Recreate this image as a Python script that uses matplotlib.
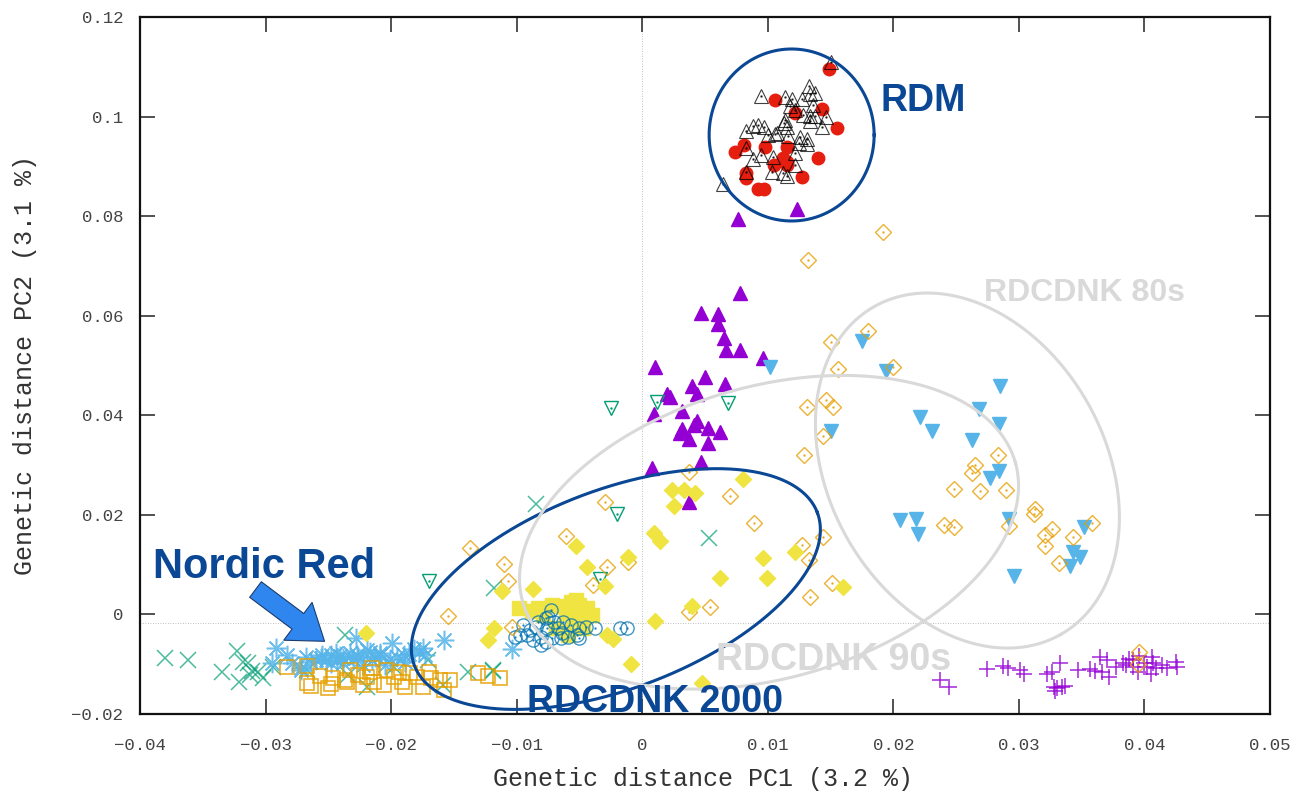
import numpy as np
import matplotlib.pyplot as plt

# PCA coordinates, one array per group (gnuplot point types 1..13)
plus_purple = np.array([
    (0.0237, -0.0131), (0.0244, -0.0146), (0.0275, -0.0110), (0.0287, -0.0104), (0.0291, -0.0108),
    (0.0301, -0.0112), (0.0304, -0.0120), (0.0322, -0.0120), (0.0326, -0.0116), (0.0333, -0.0098),
    (0.0328, -0.0146), (0.0330, -0.0148), (0.0334, -0.0146), (0.0337, -0.0144), (0.0329, -0.0154),
    (0.0347, -0.0112), (0.0357, -0.0110), (0.0361, -0.0114), (0.0365, -0.0086), (0.0366, -0.0116),
    (0.0370, -0.0092), (0.0372, -0.0126), (0.0377, -0.0106), (0.0385, -0.0102), (0.0388, -0.0090),
    (0.0391, -0.0092), (0.0391, -0.0106), (0.0396, -0.0084), (0.0400, -0.0098), (0.0402, -0.0106),
    (0.0406, -0.0086), (0.0407, -0.0098), (0.0409, -0.0108), (0.0405, -0.0120), (0.0414, -0.0102),
    (0.0418, -0.0108), (0.0425, -0.0096), (0.0426, -0.0106), (0.0395, -0.0116), (0.0383, -0.0098)])

cross_green = np.array([
    (-0.0380, -0.0088), (-0.0362, -0.0092), (-0.0323, -0.0074), (-0.0335, -0.0116), (-0.0318, -0.0096),
    (-0.0314, -0.0098), (-0.0311, -0.0114), (-0.0321, -0.0136), (-0.0312, -0.0122), (-0.0306, -0.0116),
    (-0.0302, -0.0128), (-0.0294, -0.0106), (-0.0237, -0.0041), (-0.0139, -0.0116), (-0.0119, -0.0114),
    (-0.0171, -0.0092), (-0.0159, -0.0142), (-0.0085, 0.0221), (0.0053, 0.0153), (-0.0118, 0.0053),
    (-0.0119, -0.0112), (-0.0267, -0.0112), (-0.0234, -0.0122), (-0.0219, -0.0146), (-0.0198, -0.0106)])

aster_blue = np.array([
    (-0.0292, -0.0067), (-0.0283, -0.0081), (-0.0279, -0.0098), (-0.0295, -0.0098), (-0.0264, -0.0096),
    (-0.0256, -0.0088), (-0.0248, -0.0081), (-0.0243, -0.0092), (-0.0272, -0.0108), (-0.0260, -0.0092),
    (-0.0255, -0.0081), (-0.0244, -0.0078), (-0.0238, -0.0088), (-0.0228, -0.0048), (-0.0227, -0.0081),
    (-0.0219, -0.0071), (-0.0215, -0.0092), (-0.0209, -0.0078), (-0.0199, -0.0058), (-0.0190, -0.0081),
    (-0.0175, -0.0067), (-0.0158, -0.0052), (-0.0272, -0.0112), (-0.0248, -0.0098), (-0.0104, -0.0069),
    (-0.0233, -0.0078), (-0.0226, -0.0086), (-0.0217, -0.0076), (-0.0209, -0.0082), (-0.0195, -0.0086),
    (-0.0189, -0.0096), (-0.0178, -0.0076), (-0.0173, -0.0082), (-0.0238, -0.0098), (-0.0222, -0.0102),
    (-0.0205, -0.0102), (-0.0268, -0.0085), (-0.0252, -0.0092), (-0.0241, -0.0083), (-0.0230, -0.0090),
    (-0.0213, -0.0085), (-0.0201, -0.0089), (-0.0186, -0.0080), (-0.0182, -0.0070)])

square_orange = np.array([
    (-0.0283, -0.0106), (-0.0267, -0.0104), (-0.0267, -0.0138), (-0.0264, -0.0144), (-0.0257, -0.0124),
    (-0.0250, -0.0148), (-0.0246, -0.0128), (-0.0237, -0.0132), (-0.0226, -0.0122), (-0.0222, -0.0142),
    (-0.0219, -0.0126), (-0.0215, -0.0108), (-0.0214, -0.0136), (-0.0206, -0.0142), (-0.0198, -0.0126),
    (-0.0194, -0.0116), (-0.0191, -0.0136), (-0.0189, -0.0146), (-0.0185, -0.0118), (-0.0179, -0.0126),
    (-0.0175, -0.0146), (-0.0170, -0.0116), (-0.0168, -0.0128), (-0.0161, -0.0132), (-0.0153, -0.0132),
    (-0.0158, -0.0152), (-0.0131, -0.0118), (-0.0123, -0.0124), (-0.0113, -0.0128), (-0.0203, -0.0112),
    (-0.0233, -0.0112), (-0.0217, -0.0116), (-0.0235, -0.0136), (-0.0248, -0.0140)])

square_yellow = np.array([
    (-0.0098, 0.0013), (-0.0088, 0.0007), (-0.0083, 0.0013), (-0.0072, 0.0019), (-0.0065, 0.0017),
    (-0.0057, 0.0025), (-0.0053, 0.0029), (-0.0050, 0.0019), (-0.0044, 0.0013), (-0.0040, -0.0001),
    (-0.0079, -0.0001), (-0.0061, 0.0003), (-0.0055, -0.0007), (-0.0050, -0.0007), (-0.0060, -0.0036),
    (-0.0069, -0.0028), (-0.0047, -0.0028), (-0.0059, -0.0042)])

circle_blue = np.array([
    (-0.0095, -0.0022), (-0.0101, -0.0046), (-0.0092, -0.0042), (-0.0085, -0.0026), (-0.0081, -0.0046),
    (-0.0077, -0.0008), (-0.0076, -0.0028), (-0.0073, 0.0009), (-0.0072, -0.0048), (-0.0070, -0.0016),
    (-0.0067, -0.0028), (-0.0064, -0.0038), (-0.0081, -0.0062), (-0.0063, -0.0016), (-0.0057, -0.0022),
    (-0.0052, -0.0042), (-0.0050, -0.0028), (-0.0045, -0.0026), (-0.0038, -0.0028), (-0.0065, -0.0048),
    (-0.0059, -0.0046), (-0.0050, -0.0048), (-0.0089, -0.0032), (-0.0083, -0.0016), (-0.0075, -0.0006),
    (-0.0097, -0.0042), (-0.0087, -0.0052), (-0.0077, -0.0056), (-0.0018, -0.0028), (-0.0012, -0.0028)])

dot_red = np.array([
    (0.0149, 0.1096), (0.0106, 0.1034), (0.0143, 0.1016), (0.0122, 0.1008), (0.0155, 0.0977),
    (0.0074, 0.0929), (0.0081, 0.0943), (0.0098, 0.0939), (0.0115, 0.0939), (0.0112, 0.0917),
    (0.0115, 0.0909), (0.0140, 0.0917), (0.0105, 0.0903), (0.0115, 0.0903), (0.0083, 0.0877),
    (0.0127, 0.0879), (0.0092, 0.0855), (0.0097, 0.0855), (0.0083, 0.0887)])

tri_black = np.array([
    (0.0150, 0.1109), (0.0095, 0.1042), (0.0114, 0.1040), (0.0119, 0.1036), (0.0127, 0.1036),
    (0.0133, 0.1062), (0.0138, 0.1048), (0.0134, 0.1046), (0.0136, 0.1024), (0.0118, 0.1022),
    (0.0122, 0.1014), (0.0128, 0.1004), (0.0134, 0.1002), (0.0138, 0.1002), (0.0146, 0.1000),
    (0.0134, 0.0992), (0.0143, 0.0980), (0.0114, 0.0994), (0.0113, 0.0988), (0.0115, 0.0980),
    (0.0092, 0.0984), (0.0088, 0.0982), (0.0097, 0.0980), (0.0083, 0.0972), (0.0107, 0.0966),
    (0.0100, 0.0962), (0.0106, 0.0964), (0.0116, 0.0960), (0.0126, 0.0958), (0.0131, 0.0954),
    (0.0125, 0.0946), (0.0131, 0.0944), (0.0083, 0.0936), (0.0095, 0.0922), (0.0088, 0.0914),
    (0.0104, 0.0918), (0.0122, 0.0926), (0.0103, 0.0888), (0.0122, 0.0902), (0.0112, 0.0886),
    (0.0115, 0.0880), (0.0083, 0.0888), (0.0064, 0.0865)])

tri_purple = np.array([
    (0.0078, 0.0646), (0.0047, 0.0606), (0.0060, 0.0604), (0.0060, 0.0584), (0.0065, 0.0556),
    (0.0067, 0.0531), (0.0078, 0.0531), (0.0096, 0.0515), (0.0010, 0.0497), (0.0050, 0.0477),
    (0.0040, 0.0459), (0.0066, 0.0463), (0.0044, 0.0443), (0.0020, 0.0443), (0.0022, 0.0437),
    (0.0032, 0.0409), (0.0009, 0.0403), (0.0044, 0.0389), (0.0041, 0.0381), (0.0052, 0.0375),
    (0.0032, 0.0373), (0.0030, 0.0365), (0.0062, 0.0367), (0.0037, 0.0353), (0.0052, 0.0345),
    (0.0047, 0.0306), (0.0008, 0.0294), (0.0037, 0.0226), (0.0123, 0.0815), (0.0076, 0.0794)])

vtri_green = np.array([
    (0.0012, 0.0427), (0.0068, 0.0425), (-0.0025, 0.0415), (-0.0020, 0.0202), (-0.0170, 0.0067),
    (-0.0034, 0.0071)])

vtri_blue = np.array([
    (0.0175, 0.0549), (0.0194, 0.0489), (0.0285, 0.0458), (0.0268, 0.0412), (0.0221, 0.0396),
    (0.0284, 0.0382), (0.0231, 0.0368), (0.0150, 0.0368), (0.0263, 0.0350), (0.0284, 0.0288),
    (0.0277, 0.0274), (0.0205, 0.0190), (0.0218, 0.0192), (0.0220, 0.0161), (0.0292, 0.0192),
    (0.0352, 0.0176), (0.0343, 0.0125), (0.0349, 0.0115), (0.0341, 0.0097), (0.0296, 0.0077),
    (0.0102, 0.0497)])

diam_orange = np.array([
    (0.0192, 0.0768), (0.0132, 0.0712), (0.0180, 0.0569), (0.0150, 0.0547), (0.0156, 0.0493),
    (0.0200, 0.0496), (0.0131, 0.0417), (0.0146, 0.0431), (0.0152, 0.0417), (0.0144, 0.0358),
    (0.0129, 0.0321), (0.0283, 0.0321), (0.0265, 0.0301), (0.0263, 0.0284), (0.0248, 0.0251),
    (0.0269, 0.0248), (0.0290, 0.0250), (0.0313, 0.0212), (0.0312, 0.0201), (0.0240, 0.0180),
    (0.0248, 0.0176), (0.0292, 0.0177), (0.0326, 0.0172), (0.0321, 0.0160), (0.0321, 0.0137),
    (0.0343, 0.0156), (0.0358, 0.0183), (0.0332, 0.0103), (0.0144, 0.0156), (0.0127, 0.0139),
    (0.0133, 0.0109), (0.0151, 0.0063), (0.0134, 0.0035), (0.0037, 0.0286), (0.0070, 0.0238),
    (-0.0030, 0.0226), (0.0089, 0.0184), (-0.0061, 0.0157), (-0.0137, 0.0134), (-0.0110, 0.0101),
    (-0.0107, 0.0067), (-0.0028, 0.0095), (-0.0011, 0.0105), (-0.0039, 0.0059), (0.0054, 0.0015),
    (0.0037, 0.0005), (-0.0155, -0.0003), (-0.0104, -0.0026), (0.0396, -0.0075), (0.0395, -0.0099)])

diam_yellow = np.array([
    (0.0080, 0.0272), (0.0024, 0.0250), (0.0033, 0.0250), (0.0042, 0.0244), (0.0025, 0.0218),
    (0.0009, 0.0163), (0.0014, 0.0147), (-0.0053, 0.0137), (-0.0044, 0.0095), (-0.0011, 0.0115),
    (0.0096, 0.0113), (0.0122, 0.0125), (0.0062, 0.0073), (0.0099, 0.0073), (-0.0030, 0.0057),
    (-0.0087, 0.0051), (-0.0112, 0.0047), (0.0040, 0.0017), (0.0010, -0.0013), (-0.0118, -0.0028),
    (-0.0123, -0.0052), (-0.0028, -0.0041), (-0.0023, -0.0049), (-0.0009, -0.0100), (0.0048, -0.0138),
    (0.0160, 0.0055), (-0.0220, -0.0037)])

ref_x = 0.0
ref_y = -0.0017
xticks = np.arange(-0.04, 0.0501, 0.01)
yticks = np.arange(-0.02, 0.1201, 0.02)

navy = '#0a4794'
pale = '#d9d9d9'

fig = plt.figure(figsize=(12.99, 7.92), dpi=100)
ax = fig.add_axes([140/1299, 1 - 714/792, 1130/1299, 697/792])
ax.set_xlim(-0.04, 0.05)
ax.set_ylim(-0.02, 0.12)

ax.axvline(ref_x, color='#a8a8a8', ls=(0, (1, 2)), lw=0.6, zorder=1)
ax.axhline(ref_y, color='#a8a8a8', ls=(0, (1, 2)), lw=0.6, zorder=1)

def pts(data, marker, color, size, filled=True, lw=1.0, alpha=1.0, centre=False):
    kw = dict(ls='none', marker=marker, ms=size, mew=lw, alpha=alpha, zorder=3)
    if filled:
        kw.update(mfc=color, mec=color)
    else:
        kw.update(mfc='none', mec=color)
    ax.plot(data[:, 0], data[:, 1], color=color, **kw)
    if centre:
        ax.plot(data[:, 0], data[:, 1], ls='none', marker='.', ms=1.5, color=color, alpha=alpha, zorder=3)

pts(plus_purple, '+', '#9400d3', 12, lw=1.1, alpha=0.85)
pts(cross_green, 'x', '#009e73', 11, lw=1.1, alpha=0.7)
pts(aster_blue, (8, 2, 0), '#56b4e9', 14, lw=1.1, alpha=0.85)
pts(square_orange, 's', '#e69f00', 9.5, filled=False, lw=1.2, alpha=0.85)
pts(square_yellow, 's', '#f0e442', 9.5)
pts(circle_blue, 'o', '#0072b2', 9.5, filled=False, lw=1.0, alpha=0.75, centre=True)
pts(dot_red, 'o', '#e51e10', 9)
pts(tri_black, '^', '#000000', 10, filled=False, lw=0.8, alpha=0.75, centre=True)
pts(tri_purple, '^', '#9400d3', 10)
pts(vtri_green, 'v', '#009e73', 10, filled=False, lw=1.0, centre=True)
pts(vtri_blue, 'v', '#56b4e9', 10)
pts(diam_orange, 'D', '#e69f00', 8, filled=False, lw=1.0, alpha=0.8, centre=True)
pts(diam_yellow, 'D', '#f0e442', 8)

ax.set_xticks(xticks)
ax.set_yticks(yticks)
fmt = lambda v: '0' if abs(v) < 1e-9 else ('%g' % round(v, 3)).replace('-', '\u2212')
ax.set_xticklabels([fmt(v) for v in xticks])
ax.set_yticklabels([fmt(v) for v in yticks])
ax.tick_params(direction='in', length=11, width=1.2, color='#333333', top=True, right=True,
               labelcolor='#444444', labelsize=12.5)
ax.tick_params(axis='x', pad=17)
ax.tick_params(axis='y', pad=12)
for lab in ax.get_xticklabels() + ax.get_yticklabels():
    lab.set_family('Liberation Mono')
for s in ax.spines.values():
    s.set_linewidth(1.6)
    s.set_color('#111111')

fig.text(703/1299, 1 - 779/792, 'Genetic distance PC1 (3.2 %)', ha='center', va='center',
         family='Liberation Mono', fontsize=18, color='#333333')
fig.text(25/1299, 1 - 365/792, 'Genetic distance PC2 (3.1 %)', ha='center', va='center',
         rotation=90, family='Liberation Mono', fontsize=18, color='#333333')

# hand-drawn overlay rings, sizes in pixels
def ring(center, a_px, b_px, ang, color, lw):
    t = np.linspace(0, 2 * np.pi, 400)
    u, v = a_px * np.cos(t), b_px * np.sin(t)
    r = np.radians(ang)
    dx = u * np.cos(r) - v * np.sin(r)
    dy = u * np.sin(r) + v * np.cos(r)
    cx, cy = ax.transData.transform(center)
    p = ax.transData.inverted().transform(np.column_stack([cx + dx, cy + dy]))
    ax.plot(p[:, 0], p[:, 1], color=color, lw=lw, zorder=5, clip_on=False)

ring((0.0119, 0.0963), 82.5, 86, 0, navy, 2.2)
ring((-0.0021, 0.0051), 215.5, 99.4, 20.8, navy, 2.2)
ring((0.0101, 0.0165), 256, 146, 15.8, pale, 2.2)
ring((0.0259, 0.0289), 188.6, 138, -60.3, pale, 2.2)

txt = dict(family=['Liberation Sans', 'DejaVu Sans'], weight='bold', ha='left', va='baseline',
           zorder=6, clip_on=False)
ax.text(-0.0390, 0.0073, 'Nordic Red', fontsize=30, color=navy, **txt)
ax.text(0.0190, 0.1012, 'RDM', fontsize=27, color=navy, **txt)
ax.text(-0.0092, -0.0196, 'RDCDNK 2000', fontsize=27, color=navy, **txt)
ax.text(0.0059, -0.0112, 'RDCDNK 90s', fontsize=27, color=pale, **txt)
ax.text(0.0272, 0.0630, 'RDCDNK 80s', fontsize=23, color=pale, **txt)

ax.annotate('', xy=(-0.0253, -0.0054), xytext=(-0.0308, 0.0050),
            arrowprops=dict(arrowstyle='simple,head_width=34,head_length=24,tail_width=14',
                            mutation_scale=1, fc='#2f86ee', ec='#1b3b6e', lw=0.8,
                            shrinkA=0, shrinkB=0), zorder=6)

fig.savefig('out.png', dpi=100)
